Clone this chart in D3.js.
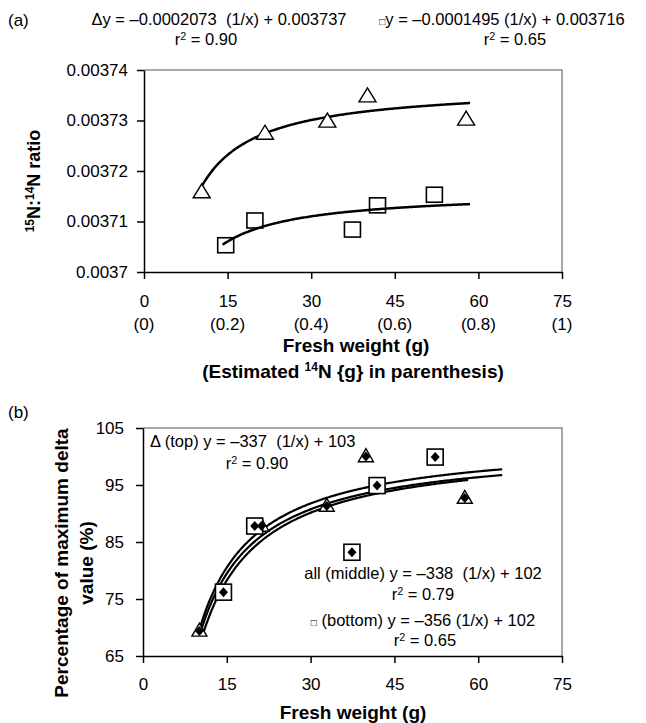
<!DOCTYPE html>
<html>
<head>
<meta charset="utf-8">
<script src="https://cdn.jsdelivr.net/npm/d3@7.9.0/dist/d3.min.js"></script>
<style>
  body { margin: 0; background: #fff; }
  svg { font-family: Arial, "Liberation Sans", sans-serif; }
</style>
</head>
<body>
<svg id="chart"></svg>
<script>
// ---------------- data ----------------
// panel (a): 15N:14N ratio vs fresh weight
const triX_a = [10.35, 21.7, 32.9, 40.1, 57.8];
const triY_a = [0.0037158, 0.0037274, 0.0037298, 0.0037348, 0.0037302];
const sqX_a = [14.66, 19.9, 37.4, 41.9, 52.1];
const sqY_a = [0.0037053, 0.0037102, 0.0037084, 0.0037132, 0.0037153];
// fitted y = a (1/x) + b, and the x span of each trendline
const fitTri_a = [-0.0002073, 0.003737];
const fitSq_a = [-0.0001495, 0.003716];
const spanTri_a = [10, 58.5];
const spanSq_a = [14.1, 58.5];

// panel (b): percentage of maximum delta value
const triX_b = [10.1, 21.2, 32.9, 39.9, 57.6];
const triY_b = [69.4, 87.8, 91.3, 100.0, 92.7];
const sqX_b = [14.4, 20.0, 37.4, 41.9, 52.3];
const sqY_b = [76.2, 87.8, 83.2, 94.9, 99.9];
const fitTop_b = [-337, 103];
const fitMid_b = [-338, 102];
const fitBot_b = [-356, 102];
const spanTop_b = [10.1, 64.3];
const spanMid_b = [10.1, 64.3];
const spanBot_b = [10.8, 58.2];

// axis ticks
const xTicks = [0, 15, 30, 45, 60, 75];
const xTicks14N = ['(0)', '(0.2)', '(0.4)', '(0.6)', '(0.8)', '(1)'];
const yTicks_a = [0.0037, 0.00371, 0.00372, 0.00373, 0.00374];
const yTicks_b = [65, 75, 85, 95, 105];

// ---------------- setup ----------------
const width = 646;
const height = 723;

const svg = d3.select('#chart')
  .attr('width', width)
  .attr('height', height)
  .attr('viewBox', [0, 0, width, height]);

svg.append('rect').attr('width', width).attr('height', height).attr('fill', '#fff');

const xA = d3.scaleLinear().domain([0, 75]).range([144, 562]);
const yA = d3.scaleLinear().domain([0.0037, 0.00374]).range([272, 70]);
const xB = d3.scaleLinear().domain([0, 75]).range([143, 562]);
const yB = d3.scaleLinear().domain([65, 105]).range([656, 428]);

const fmtA = (d) => (d === 0.0037 ? '0.0037' : d.toFixed(5));

// helpers for markers
function triPath(w, h) {
  return `M0,${-h * 0.6}L${w / 2},${h * 0.4}L${-w / 2},${h * 0.4}Z`;
}
function diamondPath(w, h) {
  return `M0,${-h / 2}L${w / 2},0L0,${h / 2}L${-w / 2},0Z`;
}
function fitLine(x, y, coef, span) {
  const xs = d3.range(span[0], span[1], 0.25).concat([span[1]]);
  return d3.line().x((d) => x(d)).y((d) => y(coef[0] / d + coef[1]))(xs);
}

// grey top/right border of a panel
function drawFrame(x, y) {
  const [x0, x1] = x.range();
  const [y0, y1] = y.range();
  svg.append('path')
    .attr('d', `M${x0},${y1}H${x1}V${y0}`)
    .attr('fill', 'none').attr('stroke', '#8a8a8a').attr('stroke-width', 1.5);
}

function r2(x, yy, val, size) {
  svg.append('text').attr('x', x).attr('y', yy).attr('text-anchor', 'middle').attr('font-size', size)
    .call((t) => {
      t.append('tspan').text('r');
      t.append('tspan').attr('font-size', size * 0.65).attr('dy', -5).text('2');
      t.append('tspan').attr('dy', 5).text(' = ' + val);
    });
}

// ============ Panel (a) ============
drawFrame(xA, yA);

svg.append('g')
  .attr('transform', `translate(0,${yA(0.0037)})`)
  .call(d3.axisBottom(xA).tickValues(xTicks).tickSize(7).tickSizeOuter(0).tickPadding(16))
  .call((g) => g.selectAll('text').attr('font-size', 17).attr('font-family', null))
  .call((g) => g.select('.domain').attr('stroke-width', 1.5))
  .call((g) => g.selectAll('.tick line').attr('stroke-width', 1.5));

svg.append('g')
  .selectAll('text')
  .data(xTicks)
  .join('text')
  .attr('x', (d) => xA(d))
  .attr('y', 330)
  .attr('text-anchor', 'middle')
  .attr('font-size', 17)
  .text((d, i) => xTicks14N[i]);

svg.append('g')
  .attr('transform', `translate(${xA(0)},0)`)
  .call(d3.axisLeft(yA).tickValues(yTicks_a).tickFormat(fmtA).tickSize(7).tickSizeOuter(0).tickPadding(9))
  .call((g) => g.selectAll('text').attr('font-size', 17).attr('font-family', null))
  .call((g) => g.select('.domain').attr('stroke-width', 1.5))
  .call((g) => g.selectAll('.tick line').attr('stroke-width', 1.5));

// fitted curves
svg.append('path').attr('d', fitLine(xA, yA, fitTri_a, spanTri_a))
  .attr('fill', 'none').attr('stroke', '#000').attr('stroke-width', 2.5);
svg.append('path').attr('d', fitLine(xA, yA, fitSq_a, spanSq_a))
  .attr('fill', 'none').attr('stroke', '#000').attr('stroke-width', 2.5);

// markers
svg.append('g').selectAll('path')
  .data(d3.zip(triX_a, triY_a))
  .join('path')
  .attr('transform', (d) => `translate(${xA(d[0])},${yA(d[1])})`)
  .attr('d', triPath(17, 14))
  .attr('fill', '#fff').attr('stroke', '#000').attr('stroke-width', 1.4);

svg.append('g').selectAll('rect')
  .data(d3.zip(sqX_a, sqY_a))
  .join('rect')
  .attr('x', (d) => xA(d[0]) - 8)
  .attr('y', (d) => yA(d[1]) - 7.5)
  .attr('width', 16).attr('height', 15)
  .attr('fill', 'none').attr('stroke', '#000').attr('stroke-width', 1.6);

// axis titles
svg.append('text')
  .attr('transform', `translate(40,${(yA.range()[0] + yA.range()[1]) / 2 + 10}) rotate(-90)`)
  .attr('text-anchor', 'middle').attr('font-weight', 'bold').attr('font-size', 18)
  .call((t) => {
    t.append('tspan').attr('font-size', 12).attr('dy', -6).text('15');
    t.append('tspan').attr('dy', 6).text('N:');
    t.append('tspan').attr('font-size', 12).attr('dy', -6).text('14');
    t.append('tspan').attr('dy', 6).text('N ratio');
  });

svg.append('text')
  .attr('x', 356).attr('y', 352)
  .attr('text-anchor', 'middle').attr('font-weight', 'bold').attr('font-size', 19)
  .text('Fresh weight (g)');

svg.append('text')
  .attr('x', 353).attr('y', 378)
  .attr('text-anchor', 'middle').attr('font-weight', 'bold').attr('font-size', 19)
  .call((t) => {
    t.append('tspan').text('(Estimated ');
    t.append('tspan').attr('font-size', 12).attr('dy', -7).text('14');
    t.append('tspan').attr('dy', 7).text('N {g} in parenthesis)');
  });

// panel label and equations
svg.append('text').attr('x', 8).attr('y', 26).attr('font-size', 17).text('(a)');

svg.append('text').attr('x', 219).attr('y', 25).attr('text-anchor', 'middle').attr('font-size', 16.5)
  .attr('xml:space', 'preserve')
  .text('\u0394y = \u20130.0002073  (1/x) + 0.003737');
svg.append('text').attr('x', 502).attr('y', 25).attr('text-anchor', 'middle').attr('font-size', 16.5)
  .call((t) => {
    t.append('tspan').attr('font-size', 10).text('\u25A1');
    t.append('tspan').text('y = \u20130.0001495 (1/x) + 0.003716');
  });

r2(206, 45, '0.90', 16.5);
r2(515, 45, '0.65', 16.5);

// ============ Panel (b) ============
drawFrame(xB, yB);

svg.append('g')
  .attr('transform', `translate(0,${yB(65)})`)
  .call(d3.axisBottom(xB).tickValues(xTicks).tickSize(7).tickSizeOuter(0).tickPadding(15))
  .call((g) => g.selectAll('text').attr('font-size', 17).attr('font-family', null))
  .call((g) => g.select('.domain').attr('stroke-width', 1.5))
  .call((g) => g.selectAll('.tick line').attr('stroke-width', 1.5));

svg.append('g')
  .attr('transform', `translate(${xB(0)},0)`)
  .call(d3.axisLeft(yB).tickValues(yTicks_b).tickSize(7).tickSizeOuter(0).tickPadding(12))
  .call((g) => g.selectAll('text').attr('font-size', 17).attr('font-family', null))
  .call((g) => g.select('.domain').attr('stroke-width', 1.5))
  .call((g) => g.selectAll('.tick line').attr('stroke-width', 1.5));

// three fitted curves
[[fitTop_b, spanTop_b], [fitMid_b, spanMid_b], [fitBot_b, spanBot_b]].forEach(([c, s]) => {
  svg.append('path').attr('d', fitLine(xB, yB, c, s))
    .attr('fill', 'none').attr('stroke', '#000').attr('stroke-width', 2.2);
});

// markers: hollow triangles / squares, filled diamond ("all") at every point
svg.append('g').selectAll('path')
  .data(d3.zip(triX_b, triY_b))
  .join('path')
  .attr('transform', (d) => `translate(${xB(d[0])},${yB(d[1])})`)
  .attr('d', triPath(15, 13))
  .attr('fill', '#fff').attr('stroke', '#000').attr('stroke-width', 1.4);

svg.append('g').selectAll('rect')
  .data(d3.zip(sqX_b, sqY_b))
  .join('rect')
  .attr('x', (d) => xB(d[0]) - 8)
  .attr('y', (d) => yB(d[1]) - 8)
  .attr('width', 16).attr('height', 16)
  .attr('fill', '#fff').attr('stroke', '#000').attr('stroke-width', 1.6);

svg.append('g').selectAll('path')
  .data(d3.zip(triX_b.concat(sqX_b), triY_b.concat(sqY_b)))
  .join('path')
  .attr('transform', (d) => `translate(${xB(d[0])},${yB(d[1])})`)
  .attr('d', diamondPath(9, 10))
  .attr('fill', '#000');

// axis titles
svg.append('text')
  .attr('transform', 'translate(68,563) rotate(-90)')
  .attr('text-anchor', 'middle').attr('font-weight', 'bold').attr('font-size', 19)
  .text('Percentage of maximum delta');
svg.append('text')
  .attr('transform', 'translate(93,563) rotate(-90)')
  .attr('text-anchor', 'middle').attr('font-weight', 'bold').attr('font-size', 19)
  .text('value (%)');

svg.append('text')
  .attr('x', 353).attr('y', 719)
  .attr('text-anchor', 'middle').attr('font-weight', 'bold').attr('font-size', 19)
  .text('Fresh weight (g)');

svg.append('text').attr('x', 8).attr('y', 418).attr('font-size', 17).text('(b)');

// equations inside panel (b)
svg.append('text').attr('x', 150).attr('y', 447).attr('font-size', 16.5)
  .attr('xml:space', 'preserve')
  .text('\u0394 (top) y = \u2013337  (1/x) + 103');
r2(257, 469, '0.90', 16.5);

svg.append('text').attr('x', 423).attr('y', 579).attr('text-anchor', 'middle').attr('font-size', 16.5)
  .attr('xml:space', 'preserve')
  .text('all (middle) y = \u2013338  (1/x) + 102');
r2(423, 600, '0.79', 16.5);

svg.append('text').attr('x', 423).attr('y', 626).attr('text-anchor', 'middle').attr('font-size', 16.5)
  .call((t) => {
    t.append('tspan').attr('font-size', 10).text('\u25A1');
    t.append('tspan').text(' (bottom) y = \u2013356 (1/x) + 102');
  });
r2(425, 646, '0.65', 16.5);
</script>
</body>
</html>
